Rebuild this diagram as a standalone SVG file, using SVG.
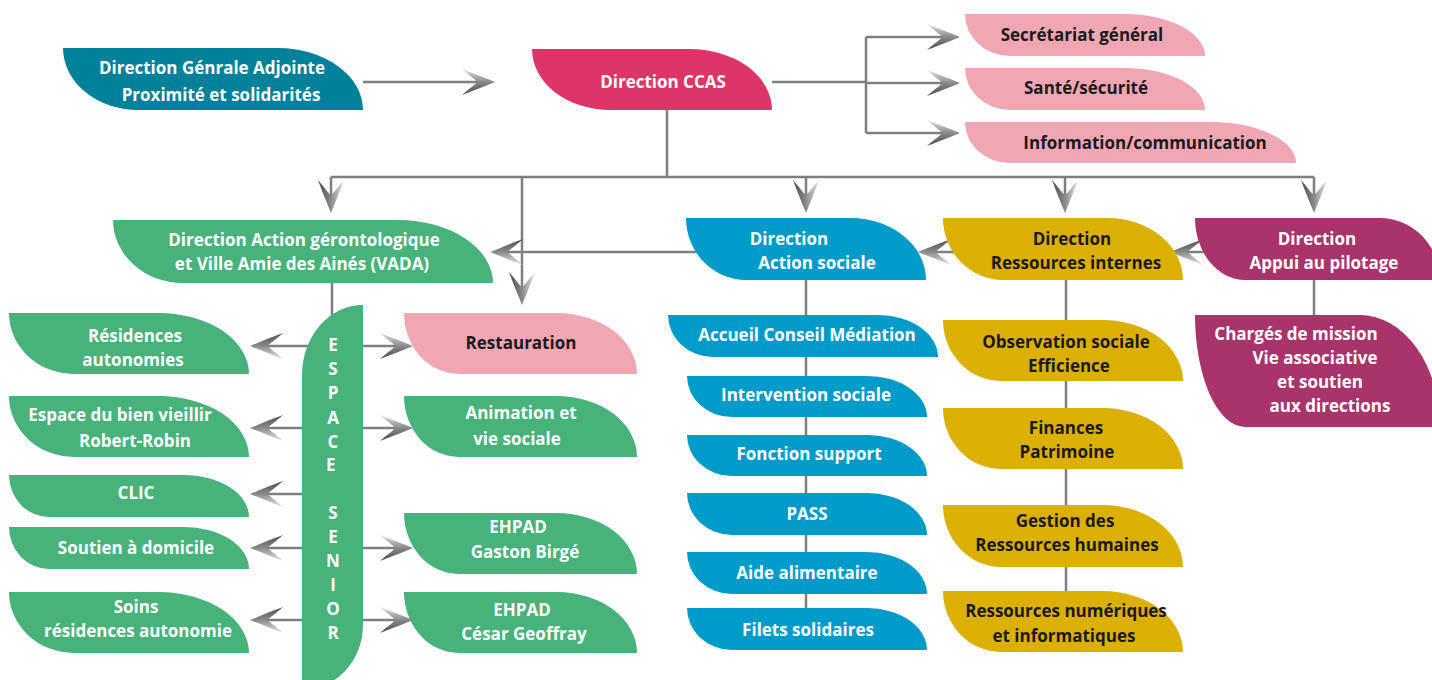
<svg xmlns="http://www.w3.org/2000/svg" width="1432" height="680" viewBox="0 0 1432 680">
<style>
.c{fill:none;stroke:#7f7f7f;stroke-width:2.5}
.a{marker-end:url(#arr)}
.t{font-family:"Open Sans","Liberation Sans",sans-serif;font-weight:700;font-size:17px;text-anchor:middle}
.w{fill:#ffffff}
.d{fill:#1a1a1a}
.teal{fill:#00819a}
.crim{fill:#de3569}
.pink{fill:#f0a6b3}
.grn{fill:#47b27a}
.blu{fill:#009bc9}
.gold{fill:#dcb000}
.mag{fill:#a9346c}
</style>
<defs>
<linearGradient id="ag" x1="0" y1="0" x2="0" y2="1">
<stop offset="0" stop-color="#e4e4e4"/>
<stop offset="0.5" stop-color="#8a8a8a"/>
<stop offset="1" stop-color="#4a4a4a"/>
</linearGradient>
<marker id="arr" viewBox="-35 -15 37 30" refX="-16" refY="0" markerWidth="37" markerHeight="30" markerUnits="userSpaceOnUse" orient="auto" overflow="visible">
<path d="M0,0 C-10,-4 -22,-9 -33,-13 C-25,-6 -19,-2 -18,0 C-19,2 -25,6 -33,13 C-22,9 -10,4 0,0 Z" fill="url(#ag)"/>
</marker>
</defs>

<g id="connectors">
<path class="c a" d="M363,82 H479"/>
<path class="c" d="M772,82 H866"/>
<path class="c" d="M866,37 V133"/>
<path class="c a" d="M866,37 H944"/>
<path class="c a" d="M866,83 H944"/>
<path class="c a" d="M866,133 H944"/>
<path class="c" d="M667,110 V177"/>
<path class="c" d="M331,177 H1314"/>
<path class="c a" d="M331,177 V197"/>
<path class="c a" d="M806,177 V197"/>
<path class="c a" d="M1065,177 V197"/>
<path class="c a" d="M1314,177 V197"/>
<path class="c a" d="M522,177 V289"/>
<path class="c a" d="M720,252 H506"/>
<path class="c a" d="M970,252 H934"/>
<path class="c a" d="M1225,252 H1186"/>
<path class="c" d="M332,283 V330"/>
<path class="c" d="M806,280 V620"/>
<path class="c" d="M1066,280 V600"/>
<path class="c" d="M1314,280 V320"/>
<path class="c a" d="M332,346 H266"/>
<path class="c a" d="M332,346 H397"/>
<path class="c a" d="M332,428 H266"/>
<path class="c a" d="M332,428 H397"/>
<path class="c a" d="M332,494 H266"/>
<path class="c a" d="M332,548 H266"/>
<path class="c a" d="M332,548 H397"/>
<path class="c a" d="M332,620 H266"/>
<path class="c a" d="M332,620 H397"/>
</g>

<g id="dga">
<path class="teal" d="M63,48 H278 A85,62 0 0 1 363,110 H138 A75,62 0 0 1 63,48 Z"/>
<text class="t w"><tspan x="212" y="74">Direction Génrale Adjointe</tspan><tspan x="221" y="101">Proximité et solidarités</tspan></text>
</g>
<g id="ccas">
<path class="crim" d="M532,49 H690 A82,61 0 0 1 772,110 H610 A78,61 0 0 1 532,49 Z"/>
<text class="t w" x="663" y="88">Direction CCAS</text>
</g>
<g id="secretariat">
<path class="pink" d="M965,14 H1125 A80,42 0 0 1 1205,56 H1010 A45,42 0 0 1 965,14 Z"/>
<text class="t d" x="1082" y="41">Secrétariat général</text>
</g>
<g id="sante">
<path class="pink" d="M965,68 H1125 A80,42 0 0 1 1205,110 H1010 A45,42 0 0 1 965,68 Z"/>
<text class="t d" x="1086" y="94">Santé/sécurité</text>
</g>
<g id="information">
<path class="pink" d="M965,122 H1211 A85,41 0 0 1 1296,163 H1010 A45,41 0 0 1 965,122 Z"/>
<text class="t d" x="1145" y="149">Information/communication</text>
</g>

<g id="vada">
<path class="grn" d="M113,220 H398 A95,63 0 0 1 493,283 H183 A70,63 0 0 1 113,220 Z"/>
<text class="t w"><tspan x="304" y="246">Direction Action gérontologique</tspan><tspan x="302" y="270">et Ville Amie des Ainés (VADA)</tspan></text>
</g>
<g id="action-sociale">
<path class="blu" d="M686,218 H851 A75,62 0 0 1 926,280 H746 A60,62 0 0 1 686,218 Z"/>
<text class="t w"><tspan x="789" y="245">Direction</tspan><tspan x="817" y="269">Action sociale</tspan></text>
</g>
<g id="ressources-internes">
<path class="gold" d="M943,218 H1108 A75,62 0 0 1 1183,280 H1003 A60,62 0 0 1 943,218 Z"/>
<text class="t d"><tspan x="1072" y="245">Direction</tspan><tspan x="1076" y="269">Ressources internes</tspan></text>
</g>
<g id="appui-pilotage">
<path class="mag" d="M1195,218 H1380 A60,62 0 0 1 1440,280 H1245 A50,62 0 0 1 1195,218 Z"/>
<text class="t w"><tspan x="1317" y="245">Direction</tspan><tspan x="1324" y="269">Appui au pilotage</tspan></text>
</g>
<g id="charges-mission">
<path class="mag" d="M1195,315 H1360 A80,112 0 0 1 1440,427 H1245 A50,112 0 0 1 1195,315 Z"/>
<text class="t w"><tspan x="1296" y="340">Chargés de mission</tspan><tspan x="1315" y="364">Vie associative</tspan><tspan x="1320" y="388">et soutien</tspan><tspan x="1330" y="412">aux directions</tspan></text>
</g>

<g id="espace-senior">
<path class="grn" d="M363,305 V625 A61,65 0 0 1 302,690 V375 A61,70 0 0 1 363,305 Z"/>
<text class="t w"><tspan x="333" y="351">E</tspan><tspan x="333" y="375">S</tspan><tspan x="333" y="399">P</tspan><tspan x="333" y="424">A</tspan><tspan x="333" y="448">C</tspan><tspan x="333" y="471">E</tspan> <tspan x="333" y="519">S</tspan><tspan x="333" y="543">E</tspan><tspan x="333" y="567">N</tspan><tspan x="333" y="591">I</tspan><tspan x="333" y="615">O</tspan><tspan x="333" y="639">R</tspan></text>
</g>

<g id="residences-autonomies">
<path class="grn" d="M9,313 H159 A90,61 0 0 1 249,374 H74 A65,61 0 0 1 9,313 Z"/>
<text class="t w"><tspan x="135" y="342">Résidences</tspan><tspan x="133" y="366">autonomies</tspan></text>
</g>
<g id="espace-bien-vieillir">
<path class="grn" d="M9,396 H159 A90,61 0 0 1 249,457 H74 A65,61 0 0 1 9,396 Z"/>
<text class="t w"><tspan x="120" y="421">Espace du bien vieillir</tspan><tspan x="135" y="447">Robert-Robin</tspan></text>
</g>
<g id="clic">
<path class="grn" d="M9,475 H184 A65,42 0 0 1 249,517 H49 A40,42 0 0 1 9,475 Z"/>
<text class="t w" x="136" y="499">CLIC</text>
</g>
<g id="soutien-domicile">
<path class="grn" d="M9,527 H184 A65,42 0 0 1 249,569 H49 A40,42 0 0 1 9,527 Z"/>
<text class="t w" x="136" y="554">Soutien à domicile</text>
</g>
<g id="soins">
<path class="grn" d="M9,592 H159 A90,61 0 0 1 249,653 H74 A65,61 0 0 1 9,592 Z"/>
<text class="t w"><tspan x="136" y="613">Soins</tspan><tspan x="138" y="637">résidences autonomie</tspan></text>
</g>

<g id="restauration">
<path class="pink" d="M404,313 H557 A80,61 0 0 1 637,374 H459 A55,61 0 0 1 404,313 Z"/>
<text class="t d" x="521" y="349">Restauration</text>
</g>
<g id="animation">
<path class="grn" d="M404,396 H557 A80,61 0 0 1 637,457 H459 A55,61 0 0 1 404,396 Z"/>
<text class="t w"><tspan x="521" y="419">Animation et</tspan><tspan x="517" y="445">vie sociale</tspan></text>
</g>
<g id="ehpad-gaston">
<path class="grn" d="M404,513 H557 A80,61 0 0 1 637,574 H459 A55,61 0 0 1 404,513 Z"/>
<text class="t w"><tspan x="518" y="533">EHPAD</tspan><tspan x="525" y="558">Gaston Birgé</tspan></text>
</g>
<g id="ehpad-cesar">
<path class="grn" d="M404,592 H557 A80,61 0 0 1 637,653 H459 A55,61 0 0 1 404,592 Z"/>
<text class="t w"><tspan x="522" y="616">EHPAD</tspan><tspan x="524" y="640">César Geoffray</tspan></text>
</g>

<g id="accueil">
<path class="blu" d="M668,315 H878 A60,42 0 0 1 938,357 H713 A45,42 0 0 1 668,315 Z"/>
<text class="t w" x="807" y="341">Accueil Conseil Médiation</text>
</g>
<g id="intervention">
<path class="blu" d="M687,376 H867 A60,41 0 0 1 927,417 H732 A45,41 0 0 1 687,376 Z"/>
<text class="t w" x="806" y="401">Intervention sociale</text>
</g>
<g id="fonction-support">
<path class="blu" d="M687,435 H867 A60,41 0 0 1 927,476 H732 A45,41 0 0 1 687,435 Z"/>
<text class="t w" x="809" y="460">Fonction support</text>
</g>
<g id="pass">
<path class="blu" d="M687,493 H867 A60,42 0 0 1 927,535 H732 A45,42 0 0 1 687,493 Z"/>
<text class="t w" x="807" y="520">PASS</text>
</g>
<g id="aide-alimentaire">
<path class="blu" d="M687,552 H867 A60,42 0 0 1 927,594 H732 A45,42 0 0 1 687,552 Z"/>
<text class="t w" x="807" y="579">Aide alimentaire</text>
</g>
<g id="filets">
<path class="blu" d="M687,608 H867 A60,42 0 0 1 927,650 H732 A45,42 0 0 1 687,608 Z"/>
<text class="t w" x="808" y="636">Filets solidaires</text>
</g>

<g id="observation">
<path class="gold" d="M943,320 H1103 A80,61 0 0 1 1183,381 H1001 A58,61 0 0 1 943,320 Z"/>
<text class="t d"><tspan x="1066" y="348">Observation sociale</tspan><tspan x="1069" y="372">Efficience</tspan></text>
</g>
<g id="finances">
<path class="gold" d="M943,408 H1103 A80,61 0 0 1 1183,469 H1001 A58,61 0 0 1 943,408 Z"/>
<text class="t d"><tspan x="1066" y="434">Finances</tspan><tspan x="1067" y="458">Patrimoine</tspan></text>
</g>
<g id="gestion-rh">
<path class="gold" d="M943,505 H1103 A80,62 0 0 1 1183,567 H1001 A58,62 0 0 1 943,505 Z"/>
<text class="t d"><tspan x="1065" y="527">Gestion des</tspan><tspan x="1067" y="551">Ressources humaines</tspan></text>
</g>
<g id="ressources-numeriques">
<path class="gold" d="M943,591 H1103 A80,61 0 0 1 1183,652 H1001 A58,61 0 0 1 943,591 Z"/>
<text class="t d"><tspan x="1066" y="617">Ressources numériques</tspan><tspan x="1064" y="642">et informatiques</tspan></text>
</g>
</svg>
